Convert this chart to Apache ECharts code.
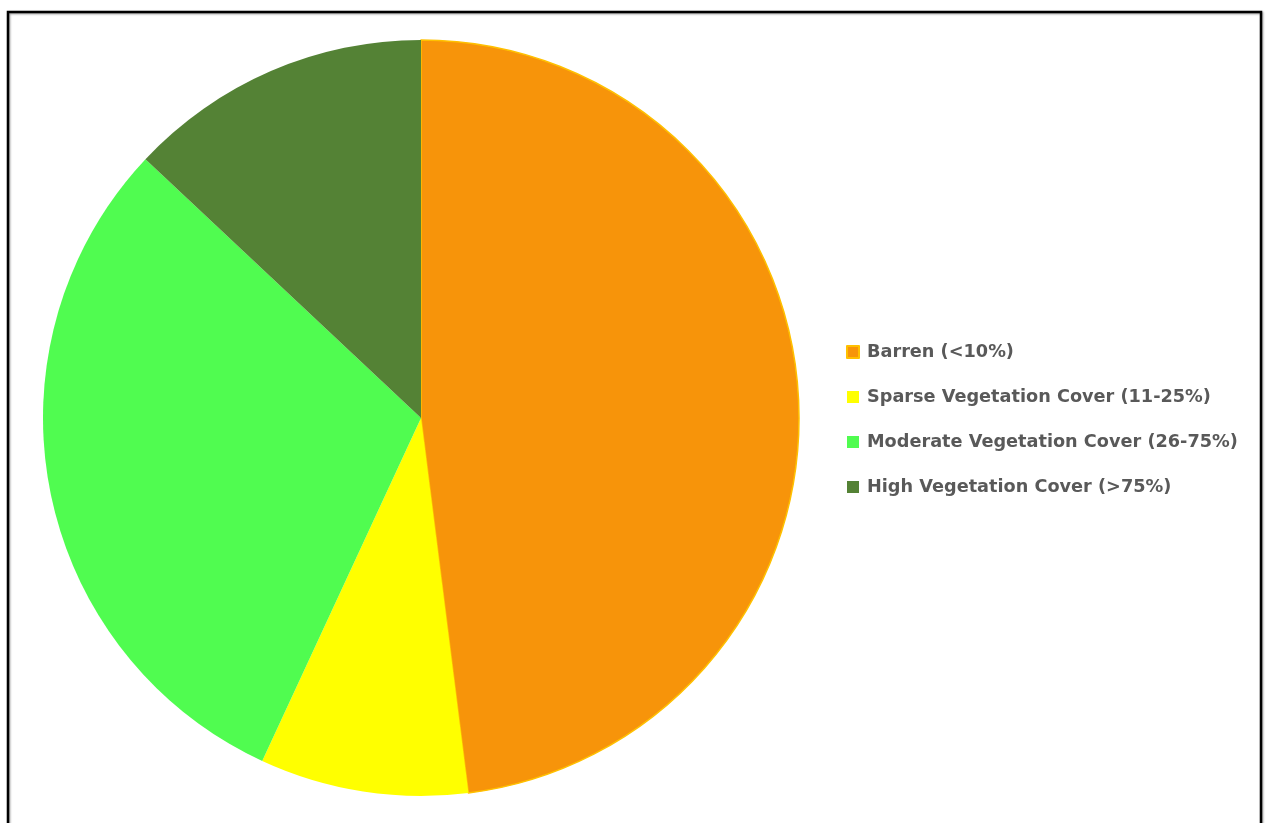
<!DOCTYPE html>
<html>
<head>
<meta charset="utf-8">
<script src="https://cdn.jsdelivr.net/npm/echarts@6/dist/echarts.min.js"></script>
<style>
html,body{margin:0;padding:0;background:#fff;}
#chart{width:1266px;height:823px;}
</style>
</head>
<body>
<div id="chart"></div>
<script>
// Share of land area by vegetation cover class (%)
const categories = ['Barren (<10%)', 'Sparse Vegetation Cover (11-25%)', 'Moderate Vegetation Cover (26-75%)', 'High Vegetation Cover (>75%)'];
const shares = [48.0, 8.9, 30.1, 13.0];
const colors = ['#F7940A', '#FFFF00', '#50FC50', '#548235'];

const chart = echarts.init(document.getElementById('chart'));
chart.setOption({
  animation: false,
  backgroundColor: '#ffffff',
  graphic: [{
    type: 'rect',
    shape: { x: 8, y: 12, width: 1253, height: 830 },
    style: { fill: 'none', stroke: '#000', lineWidth: 2.5, shadowBlur: 2, shadowColor: 'rgba(0,0,0,0.4)', shadowOffsetX: 1, shadowOffsetY: 1 },
    silent: true
  }],
  legend: {
    orient: 'vertical',
    left: 841,
    top: 337,
    itemWidth: 12,
    itemHeight: 12,
    itemGap: 25,
    icon: 'rect',
    textStyle: { fontFamily: 'DejaVu Sans', fontSize: 17.7, lineHeight: 20, color: '#595959', fontWeight: 'bold', padding: [0, 0, 0, 3] },
    data: categories
  },
  series: [{
    type: 'pie',
    center: [421, 418],
    radius: 378,
    startAngle: 90,
    clockwise: true,
    label: { show: false },
    labelLine: { show: false },
    data: categories.map((name, i) => ({
      name,
      value: shares[i],
      itemStyle: i === 0
        ? { color: colors[i], borderColor: '#FFC000', borderWidth: 1.5 }
        : { color: colors[i], borderWidth: 0 }
    }))
  }]
});
</script>
</body>
</html>
